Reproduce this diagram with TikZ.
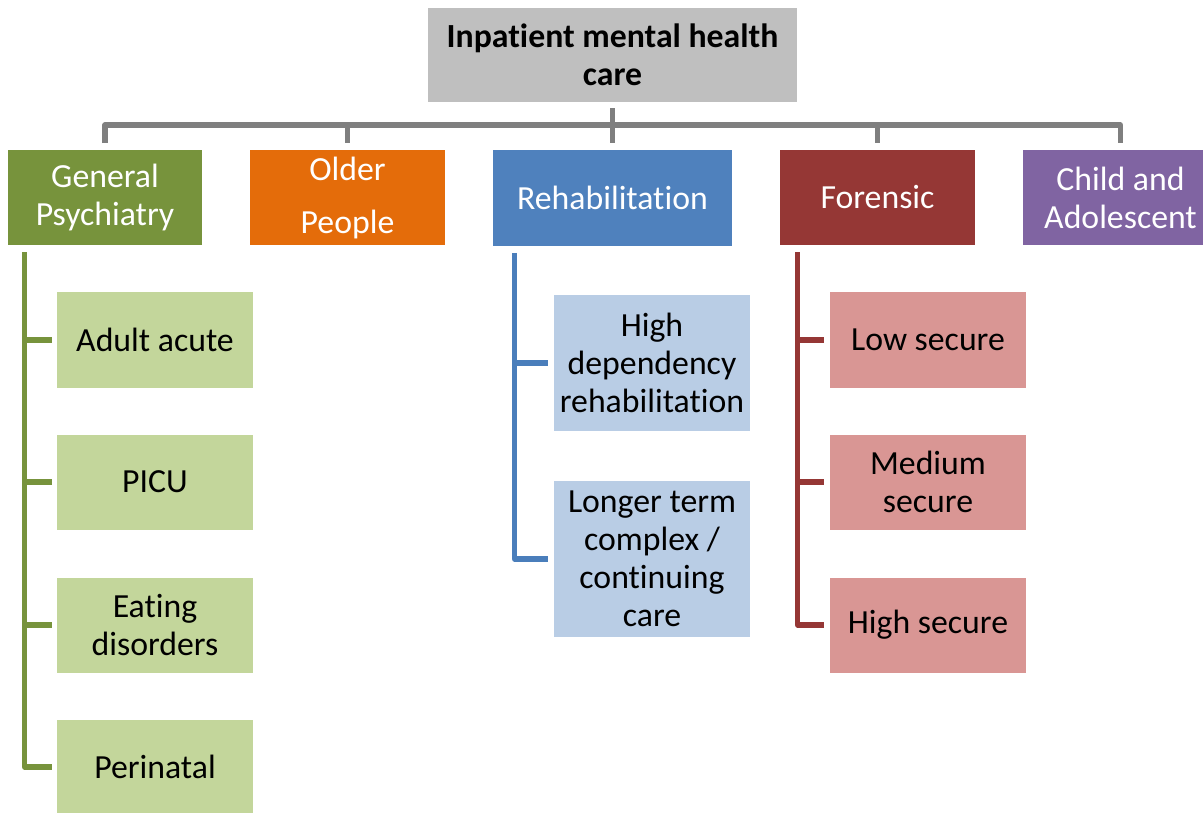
\documentclass[tikz,border=0pt]{standalone}
\usepackage{fontspec}
\setmainfont{Carlito}[Ligatures={NoCommon,NoContextual}, Contextuals=NoAlternate]
\usepackage{tikz}
\usetikzlibrary{calc, positioning}

\definecolor{topgray}{HTML}{BFBFBF}
\definecolor{linegray}{HTML}{7F7F7F}
\definecolor{gpgreen}{HTML}{77933C}
\definecolor{oporange}{HTML}{E46C0A}
\definecolor{rhblue}{HTML}{4F81BD}
\definecolor{rhline}{HTML}{4A7EBB}
\definecolor{fored}{HTML}{953735}
\definecolor{capurple}{HTML}{8064A2}
\definecolor{gplight}{HTML}{C3D69B}
\definecolor{rhlight}{HTML}{B9CDE5}
\definecolor{folight}{HTML}{D99694}

\begin{document}
\begin{tikzpicture}[x=0.025cm, y=-0.025cm,
      box/.style={rectangle, inner sep=0pt, align=center, font=\fontsize{24}{27}\selectfont},
      head/.style={box, fill=topgray, minimum width=9.225cm, minimum height=2.35cm, font=\fontsize{24}{27}\selectfont\bfseries},
      branch/.style={box, text=white, minimum width=4.875cm, minimum height=2.375cm},
      leaf/.style={box, minimum width=4.875cm, minimum height=2.375cm},
      trunk/.style={draw=linegray, line width=3.8pt, line join=round},
      twig/.style={line width=3.8pt, line join=round}]

      \useasboundingbox (0,0) rectangle (1203,812);

      \node[head] (top) at (612.5,55) {Inpatient mental health\\care};

      \node[branch, fill=gpgreen, minimum width=4.85cm] (gp) at (105,197.5) {General\\Psychiatry};
      \node[branch, fill=oporange, font=\fontsize{24}{37.7}\selectfont] (older) at (347.5,197.5) {Older\\People};
      \node[branch, fill=rhblue, minimum width=5.975cm] (rehab) at (612.5,198) {Rehabilitation};
      \node[branch, fill=fored] (foren) at (877.5,197.5) {Forensic};
      \node[branch, fill=capurple] (child) at (1120.5,197.5) {Child and\\Adolescent};

      % General psychiatry wards
      \node[leaf, fill=gplight] (adult) at (155,340) {Adult acute};
      \node[leaf, fill=gplight] (picu) at (155,482) {PICU};
      \node[leaf, fill=gplight] (eating) at (155,625) {Eating\\disorders};
      \node[leaf, fill=gplight] (peri) at (155,767) {Perinatal};

      % Rehabilitation wards
      \node[leaf, fill=rhlight, minimum height=3.4cm] (hidep) at (652,363) {High\\dependency\\rehabilitation};
      \node[leaf, fill=rhlight, minimum height=3.9cm] (longer) at (652,559) {Longer term\\complex /\\continuing\\care};

      % Forensic wards
      \node[leaf, fill=folight] (low) at (928,340) {Low secure};
      \node[leaf, fill=folight] (medium) at (928,482) {Medium\\secure};
      \node[leaf, fill=folight] (high) at (928,625) {High secure};

      % Top level connectors
      \coordinate (bar) at (612.5,125);
      \draw[trunk, shorten <=0.15cm, shorten >=-0.07cm] (top.south) -- (bar);
      \draw[trunk] (bar -| gp.north) ++(0,18) -- (bar -| gp.north) -- (bar -| child.north) -- ++(0,18);
      \foreach \n in {older, rehab, foren} {
        \draw[trunk, shorten >=0.175cm] (bar -| \n.north) -- (\n.north);
      }

      % Spines
      \coordinate (gpspine) at ($(gp.south west)+(17,7)$);
      \coordinate (rhspine) at ($(rehab.south west)+(22,7)$);
      \coordinate (fospine) at ($(foren.south west)+(18,7)$);

      \draw[twig, draw=gpgreen, shorten >=0.125cm] (gpspine) |- (peri.west);
      \foreach \n in {adult, picu, eating} {
        \draw[twig, draw=gpgreen, shorten >=0.125cm] (gpspine |- \n.west) -- (\n.west);
      }

      \draw[twig, draw=rhline, shorten >=0.15cm] (rhspine) |- (longer.west);
      \draw[twig, draw=rhline, shorten >=0.15cm] (rhspine |- hidep.west) -- (hidep.west);

      \draw[twig, draw=fored, shorten >=0.15cm] (fospine) |- (high.west);
      \foreach \n in {low, medium} {
        \draw[twig, draw=fored, shorten >=0.15cm] (fospine |- \n.west) -- (\n.west);
      }
    \end{tikzpicture}
\end{document}
